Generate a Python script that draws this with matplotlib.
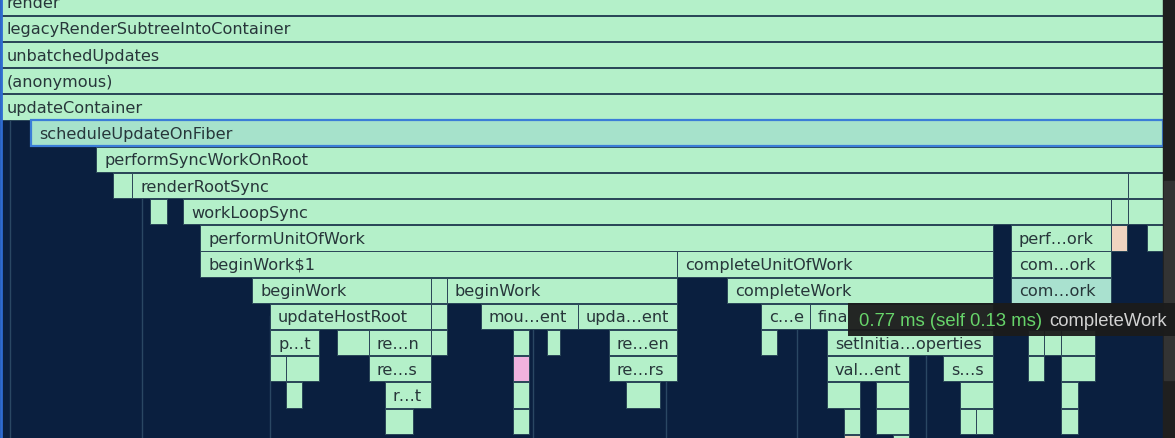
# Flame chart of a React render call stack (devtools performance panel)
import matplotlib.pyplot as plt
from matplotlib.patches import Rectangle

# one entry per frame: stack depth, start / end time (screen units), label, kind
depth = [0, 1, 2, 3, 4, 5, 6,
         7, 7, 7,
         8, 8, 8, 8,
         9, 9, 9, 9,
         10, 10, 10,
         11, 11, 11, 11, 11,
         12, 12, 12, 12, 12, 12,
         13, 13, 13, 13, 13, 13, 13, 13, 13, 13, 13, 13,
         14, 14, 14, 14, 14, 14, 14, 14, 14,
         15, 15, 15, 15, 15, 15, 15, 15,
         16, 16, 16, 16, 16, 16, 16,
         17, 17]
start = [0, 0, 0, 0, 0, 31, 96,
         113, 132, 1128,
         150, 183, 1111, 1128,
         200, 1011, 1111, 1147,
         200, 677, 1011,
         252, 431, 447, 727, 1011,
         270, 431, 481, 578, 761, 810,
         270, 337, 369, 431, 513, 547, 609, 761, 827, 1028, 1044, 1061,
         270, 286, 369, 513, 609, 827, 943, 1028, 1061,
         286, 385, 513, 626, 827, 876, 960, 1061,
         385, 513, 844, 876, 960, 976, 1061,
         844, 893]
end = [1163, 1163, 1163, 1163, 1163, 1163, 1163,
       132, 1128, 1163,
       167, 1111, 1128, 1163,
       993, 1111, 1127, 1163,
       677, 993, 1111,
       431, 447, 677, 993, 1111,
       431, 447, 578, 677, 810, 993,
       319, 369, 431, 447, 529, 560, 677, 777, 993, 1044, 1061, 1095,
       286, 319, 431, 529, 677, 909, 993, 1044, 1095,
       302, 431, 529, 660, 860, 909, 993, 1078,
       413, 529, 860, 909, 976, 993, 1078,
       860, 909]
label = ['render', 'legacyRenderSubtreeIntoContainer', 'unbatchedUpdates',
         '(anonymous)', 'updateContainer', 'scheduleUpdateOnFiber',
         'performSyncWorkOnRoot',
         '', 'renderRootSync', '',
         '', 'workLoopSync', '', '',
         'performUnitOfWork', 'perf…ork', '', '',
         'beginWork$1', 'completeUnitOfWork', 'com…ork',
         'beginWork', '', 'beginWork', 'completeWork', 'com…ork',
         'updateHostRoot', '', 'mou…ent', 'upda…ent', 'c…e', 'fina',
         'p…t', '', 're…n', '', '', '', 're…en', '', 'setInitia…operties', '', '', '',
         '', '', 're…s', '', 're…rs', 'val…ent', 's…s', '', '',
         '', 'r…t', '', '', '', '', '', '',
         '', '', '', '', '', '', '',
         '', '']
kind = ['n'] * len(depth)
kind[5] = 'selected'
kind[16] = 'peach'
kind[25] = 'hover'
kind[47] = 'pink'
kind[68] = 'peach'

# tiny frames that only show up as faint vertical hairlines
hair_x = [10, 142, 270, 533, 666, 797, 926]
hair_top = [5, 8, 12.5, 13, 15, 13, 14]

colors = {'n': '#b4f0c9', 'selected': '#a6e2cb', 'hover': '#a9e1cf',
          'peach': '#f0d4c0', 'pink': '#f0b2de'}
bg = '#0a1f3f'

fig = plt.figure(figsize=(11.75, 4.39), dpi=100, facecolor=bg)
ax = fig.add_axes([0, 0, 1, 1], facecolor=bg)
ax.set_xlim(0, 1175)
ax.set_ylim(16.64, -0.12)
ax.set_xticks([])
ax.set_yticks([])
for s in ax.spines.values():
    s.set_visible(False)

for x, t in zip(hair_x, hair_top):
    ax.plot([x, x], [t - 0.5, 17.5], color='#2a4763', lw=1, zorder=1)

widths = [e - s for s, e in zip(start, end)]
for d, s, w, lab, k in zip(depth, start, widths, label, kind):
    ec = '#3b7dd8' if k == 'selected' else '#2a4658'
    lw = 1.6 if k == 'selected' else 0.7
    ax.barh(d, w, left=s, height=0.965, color=colors[k], edgecolor=ec,
            linewidth=lw, zorder=3 if k == 'selected' else 2)
    if lab:
        pad = 7 if s == 0 else 8
        ax.text(s + pad, d + 0.02, lab, va='center', ha='left', fontsize=11.6,
                color='#27363a', zorder=4)

# blue selection line at the far left
ax.plot([1, 1], [-1, 18], color='#2e6bd1', lw=2, zorder=5)

# scrollbar on the right edge
ax.add_patch(Rectangle((1163, -1), 12, 19, color='#1f1f1f', zorder=5))
ax.add_patch(Rectangle((1164, 6.82), 10, 7.6, color='#333333', zorder=5))

# hover tooltip
H = 439.0
W = 1175.0
fig.patches.append(Rectangle((848 / W, 1 - 337 / H), (W - 848) / W, 33 / H,
                             transform=fig.transFigure, facecolor='#1b1b1b',
                             alpha=0.95, zorder=10))
fig.text(859 / W, 1 - 321 / H, '0.77 ms (self 0.13 ms)', color='#67d46a',
         fontsize=13.3, family='Liberation Sans', va='center', zorder=11)
fig.text(1049 / W, 1 - 321 / H, 'completeWork', color='#d2d2d2',
         fontsize=13.3, family='Liberation Sans', va='center', zorder=11)

plt.savefig('out.png', dpi=100, facecolor=bg)
